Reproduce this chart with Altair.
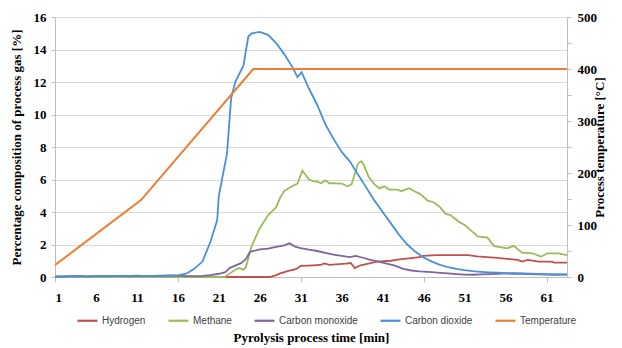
import altair as alt
import pandas as pd

# ---- gas composition series [%] (time in min) ----
h2_t = [1, 27.2, 28, 28.5, 29.5, 30.4, 31, 32, 33.4, 33.9, 34.5, 36.5, 37.1, 37.6, 38.3, 39.4,
        40.3, 42, 43, 44.2, 45.5, 46, 47.5, 51.5, 52.5, 55, 56.5, 57.5, 58, 58.7, 60, 61.5, 62, 63.5]
h2_v = [0, 0, 0.12, 0.22, 0.38, 0.48, 0.68, 0.70, 0.74, 0.84, 0.75, 0.82, 0.86, 0.55, 0.72, 0.84,
        0.94, 1.0, 1.08, 1.15, 1.22, 1.30, 1.35, 1.35, 1.27, 1.18, 1.10, 1.05, 0.95, 1.05, 0.95, 0.95, 0.88, 0.88]

ch4_t = [1, 21.7, 22, 23, 23.5, 24, 24.3, 25, 26, 27, 28, 28.5, 29, 30, 30.6, 31.2, 32, 32.5, 33,
         33.5, 34, 34.5, 35, 36, 36.7, 37.2, 38, 38.4, 38.7, 39.3, 40, 40.6, 41.2, 41.8, 42.8, 43.3,
         44.2, 45, 45.6, 46.5, 47.2, 48, 48.7, 49.3, 50.3, 51, 51.7, 52.6, 53.8, 54.6, 56.2, 57, 58,
         59.3, 60.3, 61.1, 62.5, 63.5]
ch4_v = [0, 0, 0.1, 0.45, 0.55, 0.45, 0.6, 1.9, 3.0, 3.8, 4.3, 4.9, 5.3, 5.6, 5.75, 6.55, 6.0, 5.9, 5.87,
         5.77, 5.95, 5.77, 5.77, 5.75, 5.58, 5.7, 7.0, 7.12, 6.9, 6.15, 5.7, 5.45, 5.58, 5.38, 5.38, 5.28,
         5.46, 5.25, 5.1, 4.7, 4.6, 4.3, 3.88, 3.8, 3.4, 3.2, 2.9, 2.5, 2.42, 1.9, 1.76, 1.92, 1.5,
         1.46, 1.25, 1.46, 1.46, 1.35]

co_t = [1, 2, 3, 4, 5, 6, 7, 8, 9, 10, 11, 12, 13, 14, 15, 16, 17, 18, 19, 20, 21, 21.8, 22.3, 23,
        23.7, 24.3, 24.8, 26, 27, 28, 29, 29.6, 30.4, 31, 32, 33, 34, 35, 36, 37, 37.7, 38.5, 39.5,
        40.5, 41.5, 42.5, 43.5, 44.5, 45.5, 47, 48, 49, 50, 51, 52, 53, 54, 55, 56, 57, 58, 59, 60,
        61, 62, 63.5]
co_v = [0.02, 0.03, 0.05, 0.06, 0.04, 0.05, 0.06, 0.05, 0.07, 0.06, 0.08, 0.05, 0.07, 0.09, 0.1, 0.08,
        0.06, 0.05, 0.07, 0.12, 0.2, 0.3, 0.55, 0.7, 0.85, 1.1, 1.55, 1.7, 1.75, 1.85, 1.95, 2.07, 1.85,
        1.78, 1.68, 1.6, 1.48, 1.38, 1.3, 1.22, 1.3, 1.2, 1.05, 0.95, 0.82, 0.7, 0.5, 0.4, 0.34, 0.3,
        0.26, 0.22, 0.18, 0.15, 0.14, 0.16, 0.18, 0.2, 0.22, 0.2, 0.2, 0.18, 0.16, 0.14, 0.13, 0.14]

co2_t = [1, 4, 8, 12, 14, 15, 16, 17, 18, 19, 20, 20.8, 21, 22, 22.5, 23, 24, 24.6, 25, 26, 27, 28,
         29, 30, 30.6, 31.1, 32, 33, 34, 35, 36, 37, 38, 39, 40, 41, 42, 43, 44, 45, 46, 47, 48, 49,
         50, 51, 52, 53, 54, 55, 56, 57, 58, 59, 60, 61, 62, 63.5]
co2_v = [0.03, 0.04, 0.05, 0.05, 0.06, 0.08, 0.1, 0.2, 0.5, 0.95, 2.2, 3.5, 5.0, 7.6, 11.0, 12.0,
         13.0, 14.8, 15.0, 15.08, 14.9, 14.4, 13.7, 12.9, 12.3, 12.6, 11.6, 10.6, 9.4, 8.5, 7.7, 7.1,
         6.3, 5.5, 4.7, 4.0, 3.3, 2.6, 2.0, 1.55, 1.2, 0.95, 0.75, 0.6, 0.5, 0.42, 0.36, 0.32, 0.29,
         0.27, 0.24, 0.23, 0.22, 0.2, 0.19, 0.18, 0.17, 0.16]

# ---- process temperature [°C] ----
temp_t = [1, 11.5, 25.2, 63.5]
temp_v = [23, 148, 400, 400]

series_names = ["Hydrogen", "Methane", "Carbon monoxide", "Carbon dioxide", "Temperature"]
series_colors = ["#C0504D", "#9BBB59", "#8064A2", "#4A8FDB", "#ED7D31"]

x_ticks = [1, 6, 11, 16, 21, 26, 31, 36, 41, 46, 51, 56, 61]
left_ticks = [0, 2, 4, 6, 8, 10, 12, 14, 16]
right_ticks = [0, 50, 100, 150, 200, 250, 300, 350, 400, 450, 500]

gas_frames = []
for name, ts, vs in [("Hydrogen", h2_t, h2_v), ("Methane", ch4_t, ch4_v),
                     ("Carbon monoxide", co_t, co_v), ("Carbon dioxide", co2_t, co2_v)]:
    gas_frames.append(pd.DataFrame({"t": ts, "value": vs, "series": name}))
gas = pd.concat(gas_frames, ignore_index=True)
gas["order"] = gas.index
temp = pd.DataFrame({"t": temp_t, "value": temp_v, "series": "Temperature"})

SERIF = "Liberation Serif"
SANS = "Liberation Sans"

x_enc = alt.X(
    "t:Q",
    scale=alt.Scale(domain=[1, 63.5], nice=False, zero=False),
    axis=alt.Axis(
        values=x_ticks, title="Pyrolysis process time [min]", grid=False,
        labelFont=SERIF, labelFontWeight="bold", labelFontSize=13, labelColor="#000000",
        titleFont=SERIF, titleFontWeight="bold", titleFontSize=13, titleColor="#000000",
        titlePadding=27, domainColor="#bfbfbf", tickSize=5, labelPadding=9,
        tickColor=alt.condition("datum.value % 15 == 1", alt.value("#bfbfbf"), alt.value("transparent")),
    ),
)

color_enc = alt.Color(
    "series:N",
    scale=alt.Scale(domain=series_names, range=series_colors),
    legend=alt.Legend(
        title=None, orient="none", legendX=21, legendY=292, direction="horizontal",
        symbolType="stroke", symbolSize=400, symbolStrokeWidth=2.2,
        labelFont=SANS, labelFontSize=10, labelColor="#404040", labelOffset=3,
        columnPadding=18, padding=0,
    ),
)

gas_layer = alt.Chart(gas).mark_line(strokeWidth=1.8).encode(
    x=x_enc,
    y=alt.Y(
        "value:Q",
        scale=alt.Scale(domain=[0, 16], nice=False),
        axis=alt.Axis(
            values=left_ticks, title="Percentage composition of process gas [%]",
            grid=True, gridColor="#d9d9d9", domainColor="#bfbfbf", tickColor="#bfbfbf", tickSize=4,
            labelFont=SERIF, labelFontWeight="bold", labelFontSize=13, labelColor="#000000",
            labelPadding=5, titleFont=SERIF, titleFontWeight="bold", titleFontSize=13,
            titleColor="#000000", titlePadding=10,
        ),
    ),
    color=color_enc,
    detail="series:N",
    order="order:Q",
)

temp_layer = alt.Chart(temp).mark_line(strokeWidth=2).encode(
    x=alt.X("t:Q"),
    y=alt.Y(
        "value:Q",
        scale=alt.Scale(domain=[0, 500], nice=False),
        axis=alt.Axis(
            orient="right", values=right_ticks, title="Process temperature [°C]", grid=False,
            labelExpr="datum.value % 100 == 0 ? datum.label : ''",
            domainColor="#bfbfbf", tickColor="#bfbfbf", tickSize=4,
            labelFont=SERIF, labelFontWeight="bold", labelFontSize=13, labelColor="#000000",
            labelPadding=6, titleFont=SERIF, titleFontWeight="bold", titleFontSize=13,
            titleColor="#000000", titleAngle=270, titlePadding=10,
        ),
    ),
    color=alt.Color("series:N"),
)

chart = (
    alt.layer(gas_layer, temp_layer)
    .resolve_scale(y="independent")
    .properties(
        width=512, height=260,
        autosize=alt.AutoSizeParams(type="none"),
        padding={"left": 55, "top": 17, "right": 55, "bottom": 71},
        background="#ffffff",
    )
    .configure_view(stroke="#bfbfbf", strokeWidth=0)
)

chart.save("out.html", embed_options={"renderer": "svg", "actions": False})
